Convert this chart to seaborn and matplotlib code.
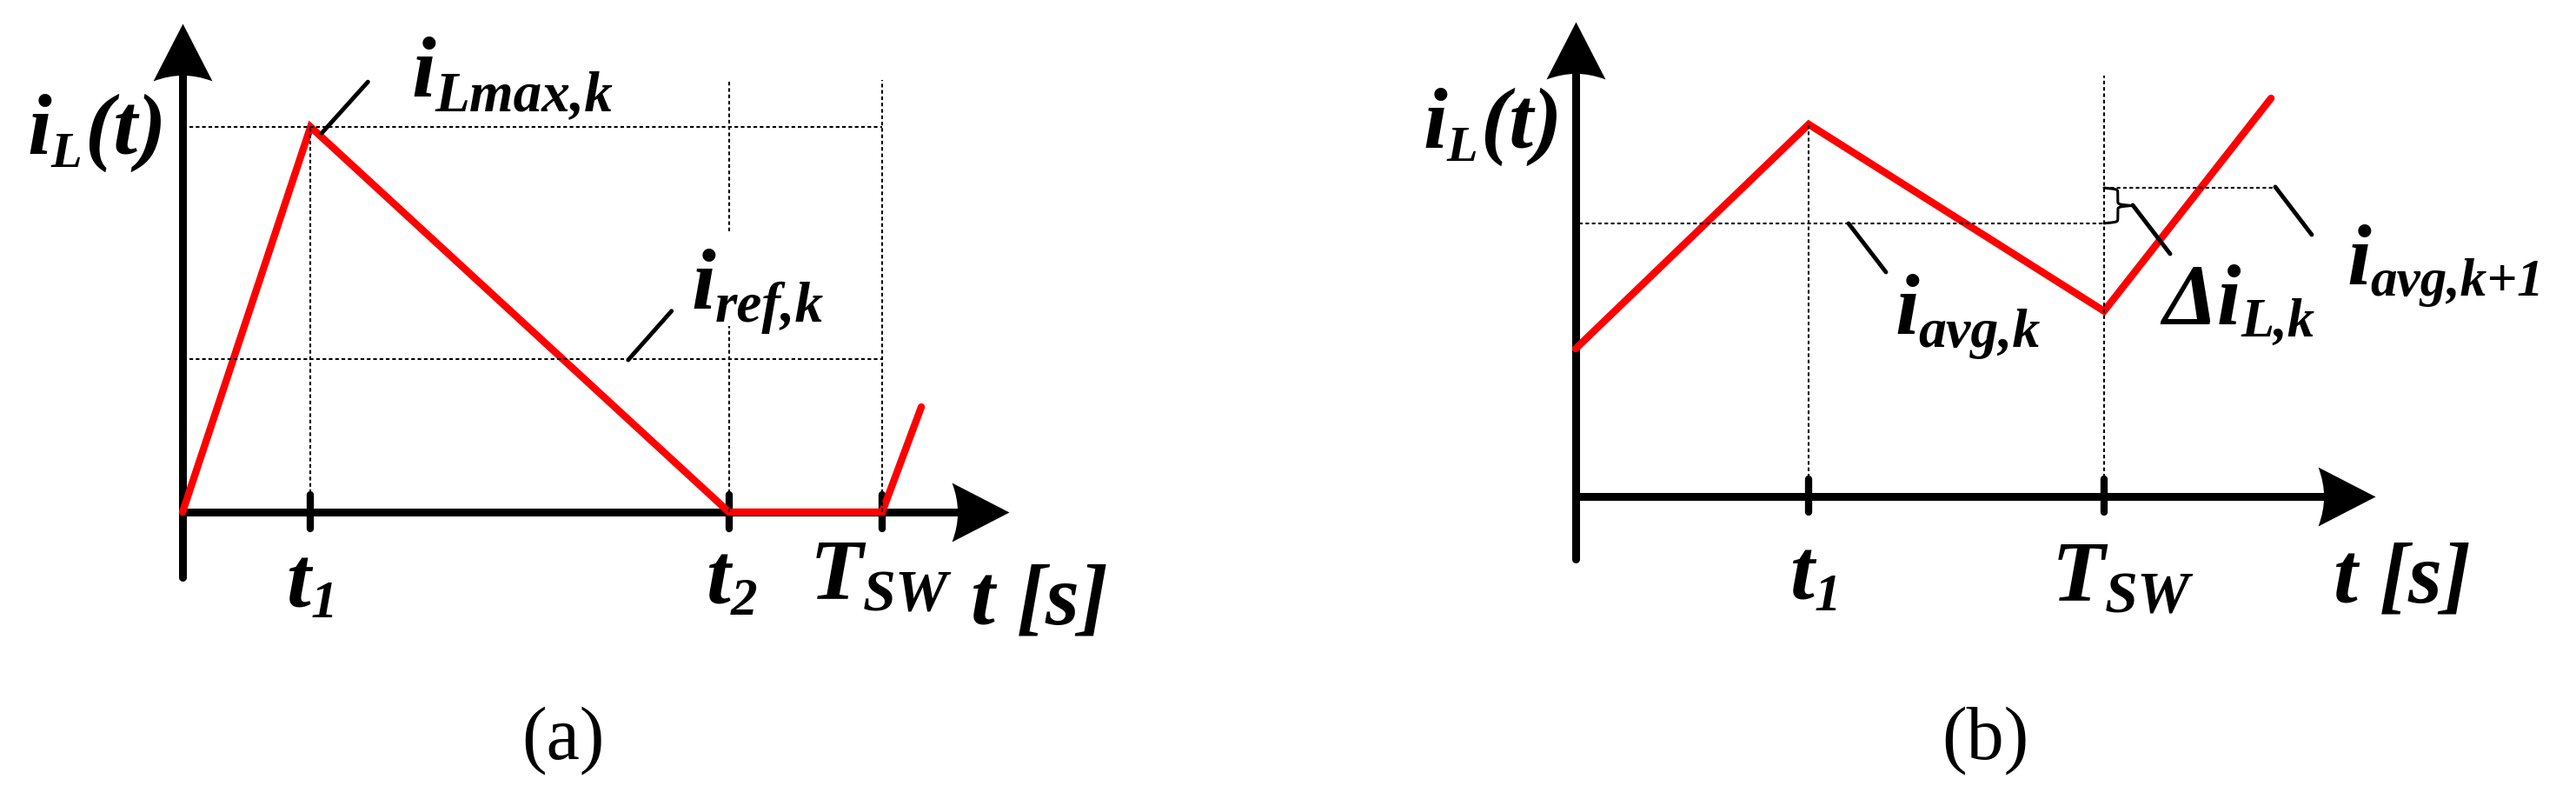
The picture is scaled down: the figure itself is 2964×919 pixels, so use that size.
import numpy as np
import matplotlib
matplotlib.use("Agg")
import matplotlib.pyplot as plt
from matplotlib.path import Path
import seaborn as sns

# Panel (a): inductor current, time in units of T_SW, current in units of i_Lmax,k
t_a = [0.0, 0.183, 0.781, 1.0, 1.056]
i_a = [0.0, 1.0, 0.0, 0.0, 0.273]
ticks_a = [0.183, 0.781, 1.0]
tick_names_a = [("t", "1"), ("t", "2"), ("T", "SW")]
i_ref_a = 0.397

# Panel (b): current in units of the peak at t1
t_b = [0.0, 0.441, 1.0, 1.316]
i_b = [0.397, 1.0, 0.498, 1.070]
ticks_b = [0.441, 1.0]
tick_names_b = [("t", "1"), ("T", "SW")]
i_avg_b = [0.734, 0.829]  # i_avg,k and i_avg,k+1

RED = "#ff0000"
FONT = dict(family="Liberation Serif", weight="bold", style="italic", color="black")
DOT = dict(color="black", lw=1.5, linestyles=(0, (2, 1.5)), zorder=5)

sns.set_style("white")
plt.rcParams["font.family"] = ["Liberation Serif", "DejaVu Serif"]

# arrow heads with a concave back, tip at the marker origin
_codes = [Path.MOVETO, Path.LINETO, Path.CURVE3, Path.CURVE3,
          Path.CURVE3, Path.CURVE3, Path.CLOSEPOLY]
HEAD_RIGHT = Path([(0, 0), (-2, 1.03), (-1.8, 0.5), (-1.8, 0),
                   (-1.8, -0.5), (-2, -1.03), (0, 0)], _codes)
HEAD_UP = Path([(0, 0), (1.03, -2), (0.5, -1.8), (0, -1.8),
                (-0.5, -1.8), (-1.03, -2), (0, 0)], _codes)


def sub_label(ax, x, y, base, sub, size=72, sub_size=46, drop=15, tail=None):
    # base letter, then a subscript on a lower baseline (drop in pixels)
    txt = ax.text(x, y, base, fontsize=size, ha="left", va="baseline", **FONT)
    s = ax.annotate(sub, xy=(1, y), xycoords=(txt, "data"),
                    xytext=(0, -drop * 0.72), textcoords="offset points",
                    fontsize=sub_size, ha="left", va="baseline", **FONT)
    if tail:
        ax.annotate(tail, xy=(1, y), xycoords=(s, "data"),
                    xytext=(2, 0), textcoords="offset points",
                    fontsize=size, ha="left", va="baseline", **FONT)


def draw_axes(ax, x_tip, y_bottom, y_tip):
    fw, fh = fig.get_size_inches() * fig.dpi
    pos = ax.get_position()
    ppx = fw * pos.width / np.ptp(ax.get_xlim())
    ppy = fh * pos.height / np.ptp(ax.get_ylim())
    back = 30  # shaft stops inside the head (pixels)
    ax.plot([0, x_tip - back / ppx], [0, 0], color="black", lw=6.5,
            solid_capstyle="round", zorder=2)
    ax.plot([0, 0], [y_bottom, y_tip - back / ppy], color="black", lw=6.5,
            solid_capstyle="round", zorder=2)
    ax.plot([x_tip], [0], marker=HEAD_RIGHT, markersize=95, color="black", mew=0, zorder=2)
    ax.plot([0], [y_tip], marker=HEAD_UP, markersize=95, color="black", mew=0, zorder=2)


def leader(ax, p0, p1):
    ax.plot([p0[0], p1[0]], [p0[1], p1[1]], color="black", lw=3.5, zorder=5)


def brace(ax, x0, y0, y1, width, beta=60.0):
    # curly brace between two current levels, opening to the left
    s = np.linspace(0, 1, 201)
    half = s[:101]
    h = 1 / (1 + np.exp(-beta * (half - half[0]))) + 1 / (1 + np.exp(-beta * (half - half[-1])))
    h = np.concatenate([h, h[-2::-1]])
    h = (h - h[0]) / (h.max() - h[0])
    ax.plot(x0 + width * h, y0 + (y1 - y0) * s, color="black", lw=2.2, zorder=5)


fig = plt.figure(figsize=(29.64, 9.2), dpi=100)
ax_a = fig.add_axes([0, 0, 0.5, 1])
ax_b = fig.add_axes([0.5, 0, 0.5, 1])

# ---------------- panel (a) ----------------
ax = ax_a
ax.set_xlim(-0.2609, 1.5801)
ax.set_ylim(-0.7449, 1.3318)
ax.axis("off")

draw_axes(ax, 1.181, -0.169, 1.269)
ax.vlines(ticks_a, -0.043, 0.045, color="black", lw=6, capstyle="round", zorder=3)

ax.hlines([max(i_a), i_ref_a], 0.01, ticks_a[2], **DOT)
ax.vlines(ticks_a[0], 0, max(i_a), **DOT)
ax.vlines([ticks_a[1], ticks_a[1]], [0, 0.729], [0.483, 1.122], **DOT)
ax.vlines(ticks_a[2], 0, 1.122, **DOT)

sns.lineplot(x=t_a, y=i_a, sort=False, estimator=None, color=RED, lw=6.0,
             solid_joinstyle="miter", ax=ax, zorder=4, legend=False)

leader(ax, (0.265, 1.117), (0.199, 0.984))
leader(ax, (0.699, 0.522), (0.637, 0.395))

sub_label(ax, -0.2224, 0.9323, "i", "L", sub_size=42, drop=15, tail="(t)")
sub_label(ax, 0.3267, 1.0813, "i", "Lmax,k", sub_size=47, drop=16)
sub_label(ax, 0.7267, 0.5305, "i", "ref,k", sub_size=47, drop=15)

for (base, sub), x, y, ss, dr in zip(tick_names_a, [0.149, 0.749, 0.897],
                                     [-0.2438, -0.237, -0.2212], [44, 44, 49], [12, 12, 15]):
    sub_label(ax, x, y, base, sub, sub_size=ss, drop=dr)
ax.text(1.1267, -0.2889, "t [s]", fontsize=72, ha="left", va="baseline", **FONT)
ax.text(0.544, -0.591, "(a)", fontsize=62, ha="center", va="center",
        family="Liberation Serif", color="black")

# ---------------- panel (b) ----------------
ax = ax_b
ax.set_xlim(-0.5444, 1.8931)
ax.set_ylim(-0.8131, 1.3364)
ax.axis("off")

draw_axes(ax, 1.513, -0.168, 1.276)
ax.vlines(ticks_b, -0.042, 0.047, color="black", lw=6, capstyle="round", zorder=3)

ax.hlines(i_avg_b[0], 0.007, ticks_b[1], **DOT)
ax.hlines(i_avg_b[1], ticks_b[1], 1.324, **DOT)
ax.vlines(ticks_b[0], 0, max(i_b[:3]), **DOT)
ax.vlines(ticks_b[1], 0, 1.131, **DOT)
brace(ax, ticks_b[1], i_avg_b[0], i_avg_b[1], 0.052)

sns.lineplot(x=t_b, y=i_b, sort=False, estimator=None, color=RED, lw=6.0,
             solid_joinstyle="miter", ax=ax, zorder=4, legend=False)

leader(ax, (0.5164, 0.7336), (0.5872, 0.6028))
leader(ax, (1.0543, 0.7827), (1.125, 0.6519))
leader(ax, (1.324, 0.8318), (1.393, 0.7033))

sub_label(ax, -0.2895, 0.9393, "i", "L", sub_size=42, drop=15, tail="(t)")
sub_label(ax, 0.6036, 0.4393, "i", "avg,k", sub_size=46, drop=15)
sub_label(ax, 1.1102, 0.465, "Δi", "L,k", sub_size=45, drop=14)
sub_label(ax, 1.4589, 0.5724, "i", "avg,k+1", sub_size=44, drop=13)

for (base, sub), x, y in zip(tick_names_b, [0.4063, 0.9013], [-0.2757, -0.2757]):
    sub_label(ax, x, y, base, sub, sub_size=44 if sub == "1" else 49,
              drop=12 if sub == "1" else 15)
ax.text(1.4342, -0.2804, "t [s]", fontsize=72, ha="left", va="baseline", **FONT)
ax.text(0.7747, -0.6542, "(b)", fontsize=62, ha="center", va="center",
        family="Liberation Serif", color="black")

fig.savefig("out.png", dpi=100)
